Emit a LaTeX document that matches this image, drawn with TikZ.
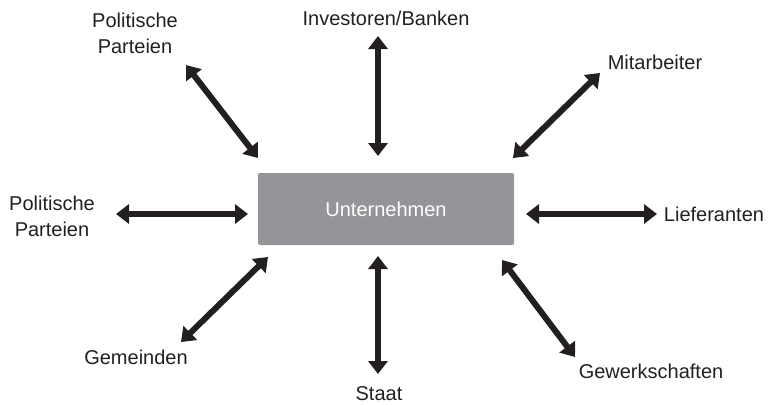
\documentclass[tikz,border=0pt]{standalone}
\usepackage{fontspec}
\setmainfont{Liberation Sans}
\usepackage{tikz}
\usetikzlibrary{arrows.meta}
\definecolor{dunkel}{HTML}{231F20}
\definecolor{kasten}{HTML}{939598}
\tikzset{
  firma/.style={
    rectangle, rounded corners=1pt, fill=kasten, draw=none,
    minimum width=128pt, minimum height=36pt,
    text=white, font=\fontsize{10}{13}\selectfont
  },
  gruppe/.style={
    align=center, text=dunkel, inner sep=0pt,
    font=\fontsize{10}{13}\selectfont
  },
  doppelpfeil/.style={
    line width=3pt, color=dunkel,
    {Triangle[length=6.5pt,width=9.5pt]}-{Triangle[length=6.5pt,width=9.5pt]}
  },
}
\begin{document}
\begin{tikzpicture}[x=0.5pt,y=-0.5pt]
  \useasboundingbox (0,0) rectangle (769,404);

  \node (unt) [firma] at (386,209) {Unternehmen};

  \node (parteien1) [gruppe] at (135,33)  {Politische\\Parteien};
  \node (invest)    [gruppe] at (386,18)  {Investoren/Banken};
  \node (mitarb)    [gruppe] at (655,62)  {Mitarbeiter};
  \node (parteien2) [gruppe] at (52,216)  {Politische\\Parteien};
  \node (liefer)    [gruppe] at (714,214) {Lieferanten};
  \node (gemeind)   [gruppe] at (136,357) {Gemeinden};
  \node (staat)     [gruppe] at (379,394) {Staat};
  \node (gewerk)    [gruppe] at (651,371) {Gewerkschaften};

  % Pfeilenden
  \coordinate (nw1) at (186,65);  \coordinate (nw2) at (258,158);
  \coordinate (n1)  at (378,36);  \coordinate (n2)  at (378,156);
  \coordinate (ne1) at (600,73);  \coordinate (ne2) at (513,158);
  \coordinate (w1)  at (116,214); \coordinate (w2)  at (248,214);
  \coordinate (e1)  at (526,214); \coordinate (e2)  at (657,214);
  \coordinate (sw1) at (268,257); \coordinate (sw2) at (181,342);
  \coordinate (s1)  at (378,256); \coordinate (s2)  at (378,374);
  \coordinate (se1) at (502,260); \coordinate (se2) at (575,357);

  \draw [doppelpfeil] (nw1) -- (nw2);
  \draw [doppelpfeil] (n1)  -- (n2);
  \draw [doppelpfeil] (ne1) -- (ne2);
  \draw [doppelpfeil] (w1)  -- (w2);
  \draw [doppelpfeil] (e1)  -- (e2);
  \draw [doppelpfeil] (sw1) -- (sw2);
  \draw [doppelpfeil] (s1)  -- (s2);
  \draw [doppelpfeil] (se1) -- (se2);
\end{tikzpicture}
\end{document}
